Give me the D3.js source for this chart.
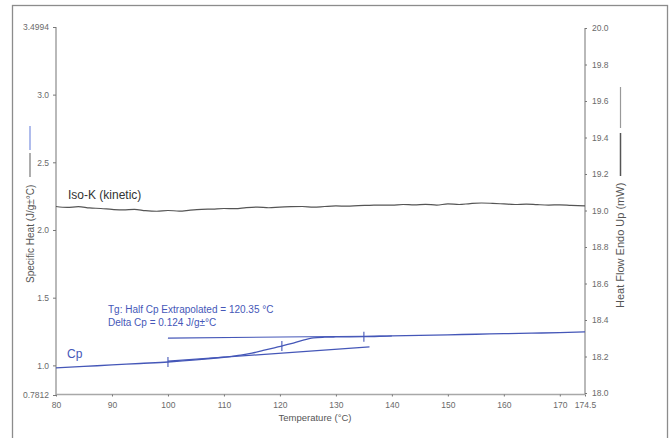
<!DOCTYPE html>
<html>
<head>
<meta charset="utf-8">
<script src="https://cdn.jsdelivr.net/npm/d3@7"></script>
<style>
  html, body { margin: 0; padding: 0; background: #fff; }
  svg { display: block; }
  text { font-family: "Liberation Sans", Arial, sans-serif; }
</style>
</head>
<body>
<svg id="chart" width="671" height="438"></svg>
<script>
// ---- Data ----
const tempTicks = [80, 90, 100, 110, 120, 130, 140, 150, 160, 170, 174.5];
const cpTicks = [0.7812, 1.0, 1.5, 2.0, 2.5, 3.0, 3.4994];
const hfTicks = [18.0, 18.2, 18.4, 18.6, 18.8, 19.0, 19.2, 19.4, 19.6, 19.8, 20.0];

// Iso-K (kinetic) heat flow, mW (right axis)
const isoTemp = [80,82,84,86,88,90,92,94,96,98,100,102,104,106,108,110,112,114,116,118,120,122,124,126,128,130,132,134,136,138,140,142,144,146,148,150,152,154,156,158,160,162,164,166,168,170,172,174.5];
const isoHF = [19.022,19.017,19.021,19.014,19.011,19.006,19.003,19.006,18.999,18.996,19.000,18.997,19.002,19.006,19.008,19.011,19.010,19.016,19.019,19.015,19.019,19.021,19.022,19.018,19.022,19.025,19.024,19.027,19.028,19.030,19.029,19.033,19.031,19.034,19.030,19.036,19.033,19.038,19.041,19.039,19.036,19.033,19.035,19.032,19.030,19.031,19.028,19.025];

// Specific heat Cp, J/g°C (left axis)
const cpTemp = [80,85,90,95,100,105,110,113,115,117,119,120.35,122,124,126,128,130,135,140,145,150,155,160,165,170,174.5];
const cpVal = [0.981,0.992,1.003,1.014,1.025,1.040,1.060,1.075,1.090,1.110,1.130,1.143,1.160,1.185,1.203,1.208,1.210,1.212,1.218,1.222,1.226,1.230,1.234,1.238,1.242,1.247];

// Extrapolated baselines
const lowerBaseT = [100, 136];
const lowerBaseCp = [1.032, 1.136];
const upperBaseT = [100, 140];
const upperBaseCp = [1.202, 1.217];

// Markers on Cp curve
const markT = [100, 120.35, 135];
const markCp = [1.025, 1.143, 1.212];

const annot1 = "Tg: Half Cp Extrapolated = 120.35 °C";
const annot2 = "Delta Cp = 0.124 J/g±°C";

// ---- Layout ----
const svg = d3.select("#chart");
const blue = "#4557b8";
const axisGray = "#a8a8a8";
const tickTxt = "#6a6a6a";

const x = d3.scaleLinear().domain([80, 174.5]).range([56, 585]);
const yL = d3.scaleLinear().domain([0.7812, 3.4994]).range([395, 27]);
const yR = d3.scaleLinear().domain([18.0, 20.0]).range([393, 28]);

// outer frame
svg.append("rect").attr("x", 12.5).attr("y", 5.5).attr("width", 655).attr("height", 445)
  .attr("fill", "none").attr("stroke", "#8c8c8c").attr("stroke-width", 1.3);

// axes
const fmtX = d => d === 174.5 ? "174.5" : String(d);
const xAxis = d3.axisBottom(x).tickValues(tempTicks).tickFormat(fmtX).tickSize(2).tickPadding(5);
const gx = svg.append("g").attr("transform", "translate(0,394.5)").call(xAxis);

const fmtL = d => (d === 0.7812 || d === 3.4994) ? String(d) : d.toFixed(1);
const yAxisL = d3.axisLeft(yL).tickValues(cpTicks).tickFormat(fmtL).tickSize(3).tickPadding(4);
const gl = svg.append("g").attr("transform", "translate(56,0)").call(yAxisL);

const yAxisR = d3.axisRight(yR).tickValues(hfTicks).tickFormat(d => d.toFixed(1)).tickSize(2).tickPadding(5);
const gr = svg.append("g").attr("transform", "translate(585,0)").call(yAxisR);

[gx, gl, gr].forEach(g => {
  g.select(".domain").attr("stroke", axisGray).attr("stroke-width", 1.6);
  g.selectAll(".tick line").attr("stroke", "#777");
  g.selectAll(".tick text").attr("fill", tickTxt).style("font-size", "8.5px");
});
gl.select(".domain").attr("d", "M0,27V395");
gr.select(".domain").attr("d", "M0,28V394.5");
gx.select(".domain").attr("d", "M56,0H585");

// axis titles
svg.append("text").attr("x", 315).attr("y", 421).attr("text-anchor", "middle")
  .attr("fill", "#555").style("font-size", "9.5px").text("Temperature (°C)");

svg.append("text").attr("transform", "translate(33.5,283) rotate(-90)")
  .attr("fill", "#555").style("font-size", "10px").text("Specific Heat (J/g±°C)");
svg.append("line").attr("x1", 30).attr("x2", 30).attr("y1", 153).attr("y2", 177)
  .attr("stroke", "#777").attr("stroke-width", 1.2);
svg.append("line").attr("x1", 30).attr("x2", 30).attr("y1", 126).attr("y2", 150)
  .attr("stroke", "#7b8fe0").attr("stroke-width", 1.2);

svg.append("text").attr("transform", "translate(624,308) rotate(-90)")
  .attr("fill", "#555").style("font-size", "11px").text("Heat Flow Endo Up (mW)");
svg.append("line").attr("x1", 620.5).attr("x2", 620.5).attr("y1", 133).attr("y2", 176)
  .attr("stroke", "#555").attr("stroke-width", 1.5);
svg.append("line").attr("x1", 620.5).attr("x2", 620.5).attr("y1", 87).attr("y2", 128)
  .attr("stroke", "#999").attr("stroke-width", 1.2);

// Iso-K line
const isoData = isoTemp.map((t, i) => [t, isoHF[i]]);
svg.append("path").datum(isoData)
  .attr("d", d3.line().x(d => x(d[0])).y(d => yR(d[1])).curve(d3.curveMonotoneX))
  .attr("fill", "none").attr("stroke", "#555").attr("stroke-width", 1.2);

svg.append("text").attr("x", 68).attr("y", 199).attr("fill", "#333")
  .style("font-size", "12px").text("Iso-K (kinetic)");

// Cp curve
const cpData = cpTemp.map((t, i) => [t, cpVal[i]]);
svg.append("path").datum(cpData)
  .attr("d", d3.line().x(d => x(d[0])).y(d => yL(d[1])).curve(d3.curveMonotoneX))
  .attr("fill", "none").attr("stroke", blue).attr("stroke-width", 1.3);

// baselines
const baseLine = d3.line().x(d => x(d[0])).y(d => yL(d[1]));
svg.append("path").datum(lowerBaseT.map((t, i) => [t, lowerBaseCp[i]]))
  .attr("d", baseLine).attr("fill", "none").attr("stroke", blue).attr("stroke-width", 1.2);
svg.append("path").datum(upperBaseT.map((t, i) => [t, upperBaseCp[i]]))
  .attr("d", baseLine).attr("fill", "none").attr("stroke", blue).attr("stroke-width", 1.2);

// markers
svg.selectAll(".mark").data(markT.map((t, i) => [t, markCp[i]])).enter()
  .append("line").attr("class", "mark")
  .attr("x1", d => x(d[0])).attr("x2", d => x(d[0]))
  .attr("y1", d => yL(d[1]) - 5).attr("y2", d => yL(d[1]) + 5)
  .attr("stroke", blue).attr("stroke-width", 1.1);

svg.append("text").attr("x", 67).attr("y", 358).attr("fill", blue)
  .style("font-size", "12px").text("Cp");

svg.append("text").attr("x", 108).attr("y", 313).attr("fill", blue)
  .style("font-size", "10px").text(annot1);
svg.append("text").attr("x", 108).attr("y", 326).attr("fill", blue)
  .style("font-size", "10px").text(annot2);
</script>
</body>
</html>
